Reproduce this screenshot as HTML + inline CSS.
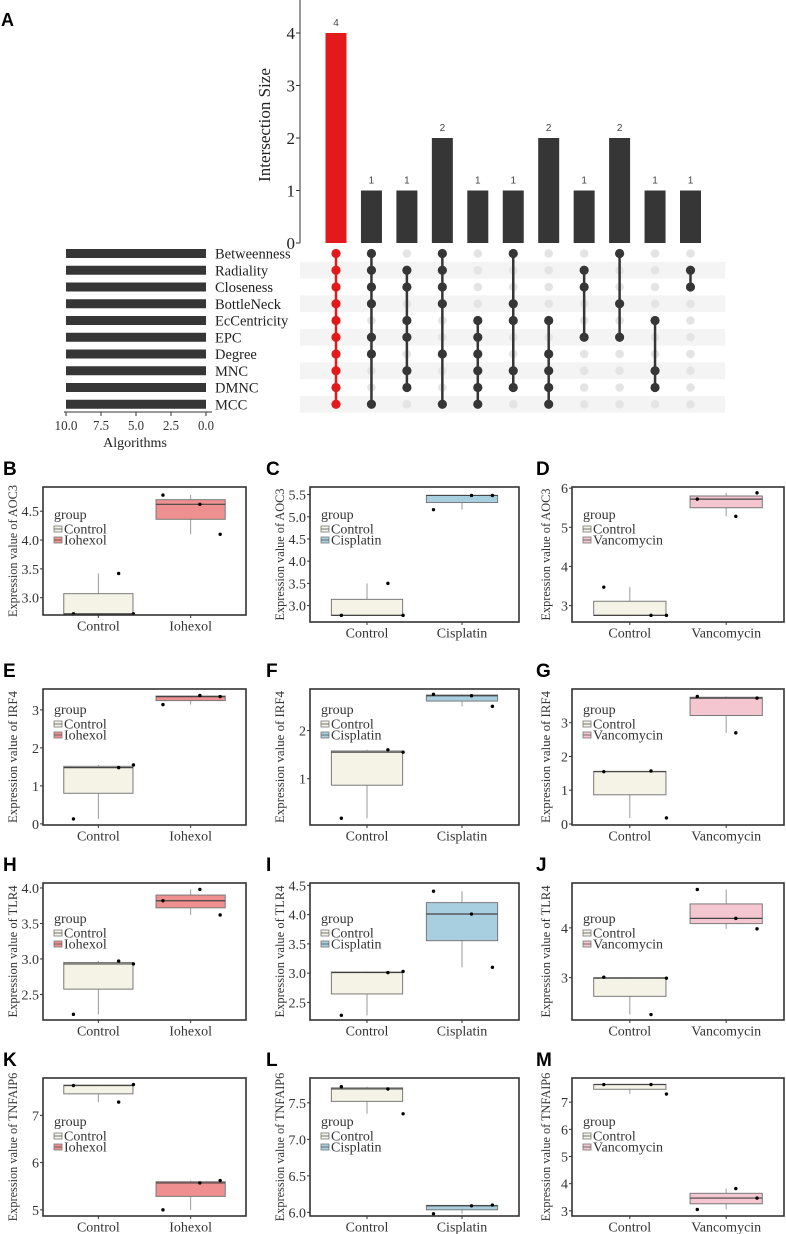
<!DOCTYPE html>
<html><head><meta charset="utf-8"><style>
body{margin:0;background:#fff}
svg{display:block}
text{font-family:"Liberation Serif",serif}
text.sans{font-family:"Liberation Sans",sans-serif}
</style></head><body>
<svg id="fig" width="786" height="1234" viewBox="0 0 786 1234" xmlns="http://www.w3.org/2000/svg"></svg>
<script>
// ---------- Upset data ----------
const setNames = ["Betweenness","Radiality","Closeness","BottleNeck","EcCentricity","EPC","Degree","MNC","DMNC","MCC"];
const setSizes = [10,10,10,10,10,10,10,10,10,10];
const interCounts = [4,1,1,2,1,1,2,1,2,1,1];
const interMembers = [
  [0,1,2,3,4,5,6,7,8,9],
  [0,1,2,3,5,6,9],
  [1,2,4,5,7,8],
  [0,1,2,3,6,9],
  [4,5,6,7,8,9],
  [0,3,4,7,8],
  [4,6,7,8,9],
  [1,2,5],
  [0,3,5],
  [4,7,8],
  [1,2]
];
const interTicks = [0,1,2,3,4];
const sizeTicks = [10.0,7.5,5.0,2.5,0.0];

// ---------- Boxplot data ----------
const B_control=[2.72,3.42,2.72], B_treat=[4.78,4.62,4.10], B_ticks=[3.0,3.5,4.0,4.5], B_dom=[2.70,4.92];
const C_control=[2.78,3.50,2.78], C_treat=[5.16,5.48,5.48], C_ticks=[3.0,3.5,4.0,4.5,5.0,5.5], C_dom=[2.63,5.67];
const D_control=[3.47,2.75,2.75], D_treat=[5.72,5.28,5.88], D_ticks=[3,4,5,6], D_dom=[2.58,6.03];
const E_control=[0.13,1.48,1.55], E_treat=[3.14,3.38,3.35], E_ticks=[0,1,2,3], E_dom=[-0.03,3.55];
const F_control=[0.18,1.60,1.55], F_treat=[2.75,2.72,2.50], F_ticks=[1,2], F_dom=[0.04,2.86];
const G_control=[1.55,1.57,0.18], G_treat=[3.78,2.70,3.73], G_ticks=[0,1,2,3], G_dom=[-0.03,4.0];
const H_control=[2.22,2.97,2.93], H_treat=[3.82,3.98,3.62], H_ticks=[2.5,3.0,3.5,4.0], H_dom=[2.14,4.07];
const I_control=[2.28,3.01,3.03], I_treat=[4.40,4.01,3.10], I_ticks=[2.5,3.0,3.5,4.0,4.5], I_dom=[2.20,4.54];
const J_control=[3.01,2.26,2.99], J_treat=[4.77,4.19,3.98], J_ticks=[3,4], J_dom=[2.15,4.9];
const K_control=[7.63,7.28,7.65], K_treat=[5.00,5.57,5.62], K_ticks=[5,6,7], K_dom=[4.87,7.79];
const L_control=[7.72,7.69,7.35], L_treat=[5.98,6.09,6.10], L_ticks=[6.0,6.5,7.0,7.5], L_dom=[5.95,7.84];
const M_control=[7.65,7.65,7.30], M_treat=[3.05,3.82,3.47], M_ticks=[3,4,5,6,7], M_dom=[2.81,7.89];
const jitterControl=[-0.27,0.22,0.38];
const jitterTreat=[-0.3,0.1,0.32];

const NS="http://www.w3.org/2000/svg";
const svg=document.getElementById('fig');
function mk(tag,attrs,parent){const e=document.createElementNS(NS,tag);for(const k in attrs)e.setAttribute(k,attrs[k]);(parent||svg).appendChild(e);return e;}
function txt(s,attrs,parent){const e=mk('text',attrs,parent);e.textContent=s;return e;}

// ---------- Upset ----------
const up=mk('g',{});


const label=txt('A',{x:1,y:26,'font-size':18,'font-weight':'bold','class':'sans'},up);


const colX=i=>336+i*35.45;
const yCount=v=>243-v*52.5;
const rowY=i=>253.5+i*16.75;
for(let i=0;i<setNames.length;i++){
  if(i%2===1){const r=mk('rect',{x:300,y:rowY(i)-8.4,width:425,height:16.75,fill:'#f4f4f4'},up);
    
    }
}
mk('line',{x1:300,y1:0,x2:300,y2:243,stroke:'#333','stroke-width':1},up);
interTicks.forEach(t=>{
  mk('line',{x1:296,y1:yCount(t),x2:300,y2:yCount(t),stroke:'#333'},up);
  const tl=txt(String(t),{x:295,y:yCount(t)+6,'font-size':17,'text-anchor':'end',fill:'#222'},up);
  
  
});
const yt=txt('Intersection Size',{x:0,y:0,'font-size':17,'text-anchor':'middle',transform:'translate(270,125) rotate(-90)',fill:'#222'},up);


interCounts.forEach((c,i)=>{
  const col=i===0?'#e31a1c':'#363636';
  const b=mk('rect',{x:colX(i)-10.5,y:yCount(c),width:21,height:yCount(0)-yCount(c),fill:col},up);
  
  
  const t=txt(String(c),{x:colX(i),y:yCount(c)-7,'font-size':10,'text-anchor':'middle',fill:'#444','class':'sans'},up);
  
  
});
interMembers.forEach((mem,i)=>{
  const col=i===0?'#e31a1c':'#363636';
  for(let r=0;r<setNames.length;r++){
    const d=mk('circle',{cx:colX(i),cy:rowY(r),r:4.3,fill:'#e4e4e4'},up);
    
    
  }
  const mn=Math.min(...mem),mx=Math.max(...mem);
  const ln=mk('line',{x1:colX(i),y1:rowY(mn),x2:colX(i),y2:rowY(mx),stroke:col,'stroke-width':2.5},up);
  
  
  mem.forEach(r=>{
    const d=mk('circle',{cx:colX(i),cy:rowY(r),r:4.6,fill:col},up);
    
    
  });
});
const xSize=v=>206-(v/10)*140;
setNames.forEach((n,i)=>{
  const b=mk('rect',{x:xSize(setSizes[i]),y:rowY(i)-4.5,width:xSize(0)-xSize(setSizes[i]),height:9,fill:'#363636'},up);
  
  
  const t=txt(n,{x:215,y:rowY(i)+5,'font-size':14.5,fill:'#222'},up);
  
  
});
mk('line',{x1:64,y1:412,x2:212,y2:412,stroke:'#333'},up);
sizeTicks.forEach(v=>{
  mk('line',{x1:xSize(v),y1:412,x2:xSize(v),y2:416,stroke:'#333'},up);
  const t=txt(v.toFixed(1),{x:xSize(v),y:430,'font-size':14,'text-anchor':'middle',fill:'#333',textLength:v>=10?23:16,lengthAdjust:'spacingAndGlyphs'},up);
  
  
});
const at=txt('Algorithms',{x:135,y:447,'font-size':14,'text-anchor':'middle',fill:'#222'},up);



// ---------- Box panels ----------
function quant(a,p){const s=[...a].sort((x,y)=>x-y);const h=(s.length-1)*p;const lo=Math.floor(h);return s[lo]+(s[Math.min(lo+1,s.length-1)]-s[lo])*(h-lo);}
const cols=[{x0:43,x1:246,lx:3,ax:16},{x0:310,x1:519,lx:266,ax:283},{x0:572,x1:784,lx:536,ax:549}];
const rows=[{y0:487,y1:622,leg:28},{y0:689,y1:825,leg:21},{y0:883,y1:1020,leg:36},{y0:1078,y1:1216,leg:44}];
const treats=[{n:'Iohexol',c:'#ef8f8f'},{n:'Cisplatin',c:'#a8cfe0'},{n:'Vancomycin',c:'#f3c6d0'}];
const genes=['AOC3','IRF4','TLR4','TNFAIP6'];
const panels=[
 ['B',0,0,B_control,B_treat,B_ticks,B_dom,615],['C',0,1,C_control,C_treat,C_ticks,C_dom],['D',0,2,D_control,D_treat,D_ticks,D_dom],
 ['E',1,0,E_control,E_treat,E_ticks,E_dom],['F',1,1,F_control,F_treat,F_ticks,F_dom],['G',1,2,G_control,G_treat,G_ticks,G_dom],
 ['H',2,0,H_control,H_treat,H_ticks,H_dom],['I',2,1,I_control,I_treat,I_ticks,I_dom],['J',2,2,J_control,J_treat,J_ticks,J_dom],
 ['K',3,0,K_control,K_treat,K_ticks,K_dom],['L',3,1,L_control,L_treat,L_ticks,L_dom],['M',3,2,M_control,M_treat,M_ticks,M_dom]
];
panels.forEach(p=>{
  const [letter,ri,ci,ctrl,trt,ticks,dom,yb]=p;
  const C=cols[ci],R=rows[ri],T=treats[ci];
  const y0=R.y0,y1=yb||R.y1,x0=C.x0,x1=C.x1;
  const g=mk('g',{});
  
  
  const ys=v=>y1-(v-dom[0])/(dom[1]-dom[0])*(y1-y0);
  const unit=(x1-x0)/2.2;
  const xs=k=>x0+unit*(0.6+k);
  const l=txt(letter,{x:C.lx,y:y0-12,'font-size':19,'font-weight':'bold','class':'sans'},g);
  
  
  mk('rect',{x:x0,y:y0,width:x1-x0,height:y1-y0,fill:'#fff'},g);
  const dec=ticks.some(t=>!Number.isInteger(t));
  ticks.forEach(t=>{
    mk('line',{x1:x0-3,y1:ys(t),x2:x0,y2:ys(t),stroke:'#333'},g);
    const tl=txt(dec?t.toFixed(1):String(t),{x:x0-4,y:ys(t)+5,'font-size':14,'text-anchor':'end',fill:'#333'},g);
    
    
  });
  const ttl='Expression value of '+genes[ri];
  const at=txt(ttl,{x:0,y:0,'font-size':13,'text-anchor':'middle',transform:`translate(${C.ax+1},${(y0+y1)/2}) rotate(-90)`,fill:'#333',textLength:ttl.length*5.5,lengthAdjust:'spacingAndGlyphs'},g);
  
  
  [[ctrl,'#f5f3e6','Control',jitterControl],[trt,T.c,T.n,jitterTreat]].forEach((grp,k)=>{
    const [vals,fill,name,jit]=grp;
    const q1=quant(vals,0.25),md=quant(vals,0.5),q3=quant(vals,0.75),mn=Math.min(...vals),mx=Math.max(...vals);
    const cx=xs(k),hw=unit*0.375;
    const w=mk('line',{x1:cx,y1:ys(mx),x2:cx,y2:ys(mn),stroke:'#9a9a9a','stroke-width':1},g);
    
    
    const b=mk('rect',{x:cx-hw,y:ys(q3),width:2*hw,height:Math.max(1,ys(q1)-ys(q3)),fill:fill,stroke:'#7a7a7a','stroke-width':1},g);
    
    
    const m=mk('line',{x1:cx-hw,y1:ys(md),x2:cx+hw,y2:ys(md),stroke:'#444','stroke-width':1.2},g);
    
    
    vals.forEach((v,j)=>{
      const pt=mk('circle',{cx:cx+jit[j]*unit,cy:ys(v),r:1.7,fill:'#000'},g);
      
      
    });
    mk('line',{x1:cx,y1:y1,x2:cx,y2:y1+3,stroke:'#333'},g);
    const xl=txt(name,{x:cx,y:y1+15.5,'font-size':14,'text-anchor':'middle',fill:'#333'},g);
    
    
  });
  mk('rect',{x:x0,y:y0,width:x1-x0,height:y1-y0,fill:'none',stroke:'#333','stroke-width':1.6},g);
  const ly=y0+R.leg;
  const lg=mk('g',{},g);
  
  
  txt('group',{x:x0+11,y:ly+4,'font-size':14,fill:'#333'},lg);
  [['Control','#f5f3e6'],[T.n,T.c]].forEach((e,k)=>{
    const yy=ly+14+k*11;
    const le=mk('g',{},lg);
    
    
    mk('rect',{x:x0+11,y:yy-3,width:8,height:6,fill:e[1],stroke:'#777','stroke-width':0.8},le);
    mk('line',{x1:x0+11,y1:yy,x2:x0+19,y2:yy,stroke:'#555','stroke-width':0.8},le);
    txt(e[0],{x:x0+21,y:yy+4.5,'font-size':14,fill:'#333'},le);
  });
});
</script>
</body></html>
